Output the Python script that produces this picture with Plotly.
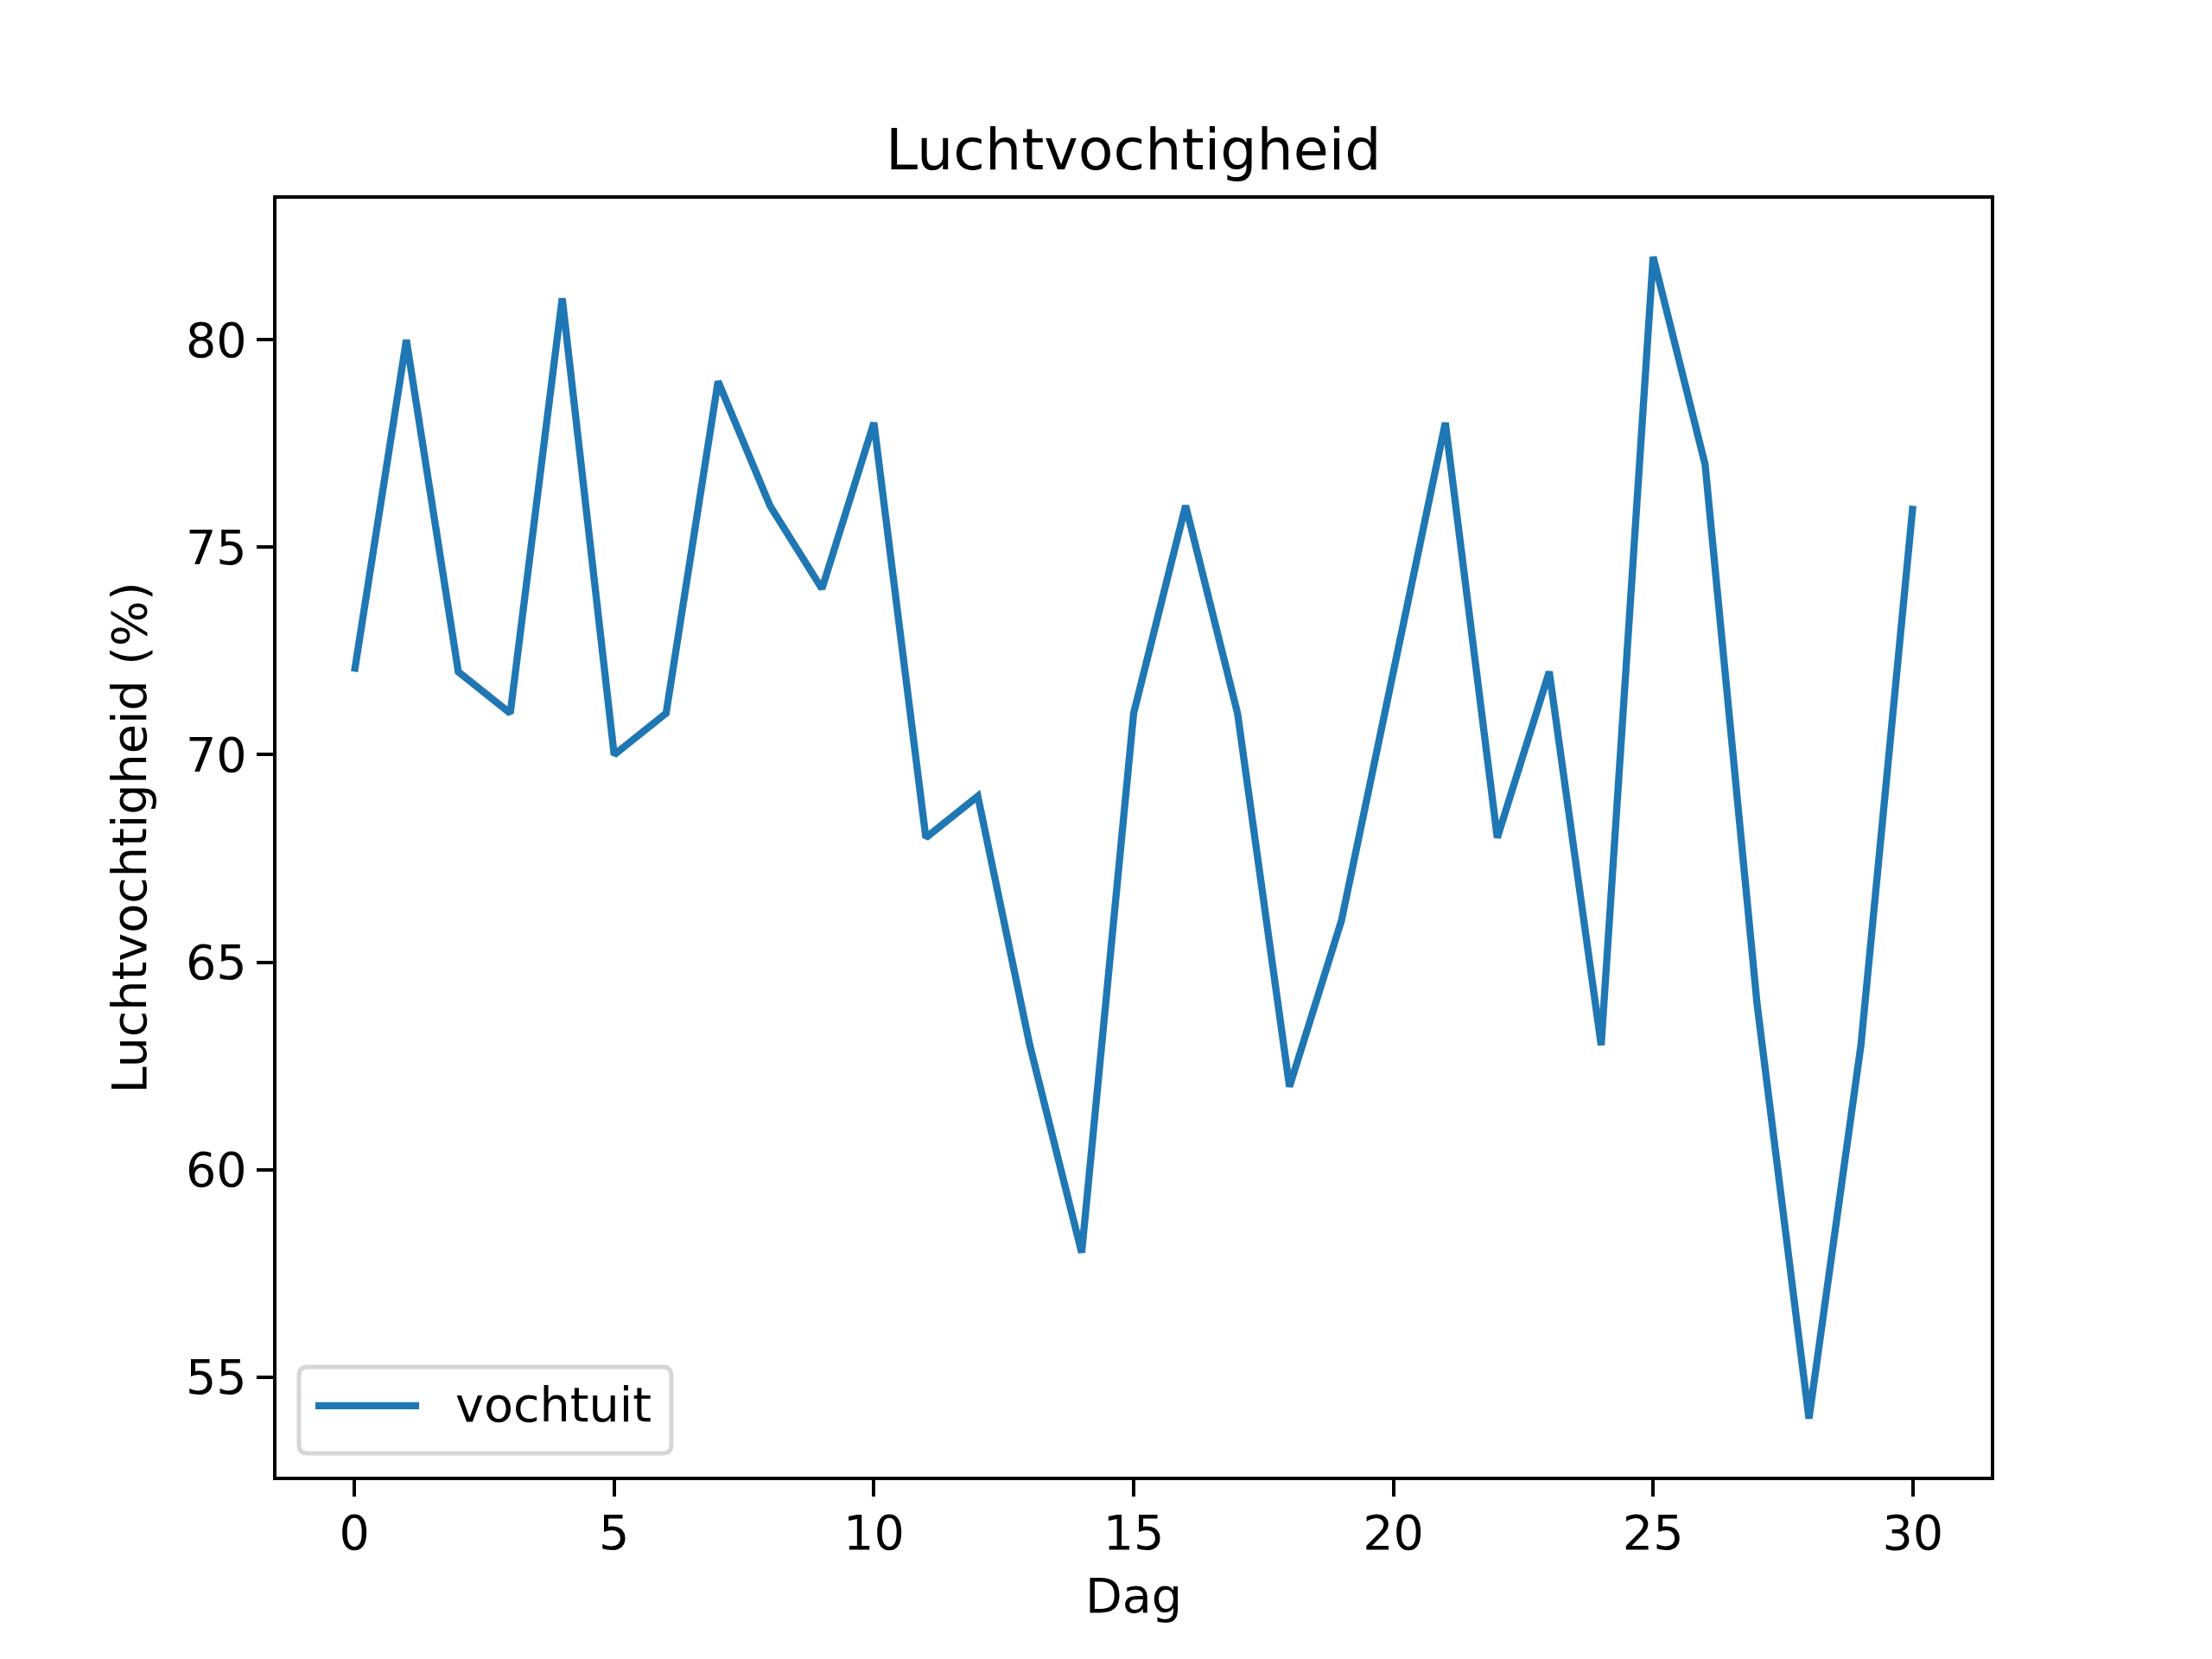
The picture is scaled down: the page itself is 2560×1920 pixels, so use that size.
import plotly.graph_objects as go

# Luchtvochtigheid per dag
dagen = list(range(31))
vochtuit = [72, 80, 72, 71, 81, 70, 71, 79, 76, 74, 78, 68, 69, 63, 58, 71,
            76, 71, 62, 66, 72, 78, 68, 72, 63, 82, 77, 64, 54, 63, 76]

x_ticks = [0, 5, 10, 15, 20, 25, 30]
y_ticks = [55, 60, 65, 70, 75, 80]

W, H = 2560, 1920
font = "DejaVu Sans"
fs = 55.6  # 10pt at 400 dpi
blauw = "#1f77b4"

fig = go.Figure()
fig.add_trace(go.Scatter(
    x=dagen, y=vochtuit, mode="lines", name="vochtuit",
    line=dict(color=blauw, width=8.3), showlegend=False,
))

axis_common = dict(
    showgrid=False, zeroline=False, showline=True, mirror=True,
    linecolor="black", linewidth=4.4,
    ticks="outside", ticklen=19, tickwidth=4.4, tickcolor="black",
    tickfont=dict(family=font, size=fs, color="black"),
)

# legend-kader (matplotlib-stijl, afgeronde hoeken) in axes-domein coördinaten
x0, x1, y0, y1 = 0.0131, 0.2303, 0.0183, 0.0859
rx, ry = 0.005, 0.0068
kader = (f"M{x0+rx},{y0} L{x1-rx},{y0} Q{x1},{y0} {x1},{y0+ry} "
         f"L{x1},{y1-ry} Q{x1},{y1} {x1-rx},{y1} "
         f"L{x0+rx},{y1} Q{x0},{y1} {x0},{y1-ry} "
         f"L{x0},{y0+ry} Q{x0},{y0} {x0+rx},{y0} Z")

fig.update_layout(
    width=W, height=H,
    paper_bgcolor="white", plot_bgcolor="white",
    margin=dict(l=320, r=256, t=230, b=211),
    font=dict(family=font, size=fs, color="black"),
    xaxis=dict(range=[-1.5, 31.5], tickvals=x_ticks, ticklabelstandoff=-6,
               title=dict(text="Dag", font=dict(size=fs), standoff=23),
               **axis_common),
    yaxis=dict(range=[52.6, 83.4], tickvals=y_ticks,
               title=dict(text="Luchtvochtigheid (%)", font=dict(size=fs), standoff=28),
               **axis_common),
    showlegend=False,
    shapes=[
        dict(type="path", xref="x domain", yref="y domain", path=kader,
             fillcolor="rgba(255,255,255,0.8)", line=dict(color="#d6d6d6", width=5)),
        dict(type="line", xref="x domain", yref="y domain",
             x0=0.0227, x1=0.0832, y0=0.0555, y1=0.0555,
             line=dict(color=blauw, width=8.3)),
    ],
    annotations=[
        dict(text="Luchtvochtigheid", xref="paper", yref="paper",
             x=0.5, y=1, xanchor="center", yanchor="bottom", yshift=16,
             showarrow=False, font=dict(family=font, size=66.7)),
        dict(text="vochtuit", xref="x domain", yref="y domain",
             x=0.1035, y=0.0565, xanchor="left", yanchor="middle",
             showarrow=False, font=dict(family=font, size=fs)),
    ],
)

# geen standaard body-marge van de browser, geen modebar
fig.write_html("out.html", config={"displayModeBar": False},
               post_script="document.body.style.margin='0';")
